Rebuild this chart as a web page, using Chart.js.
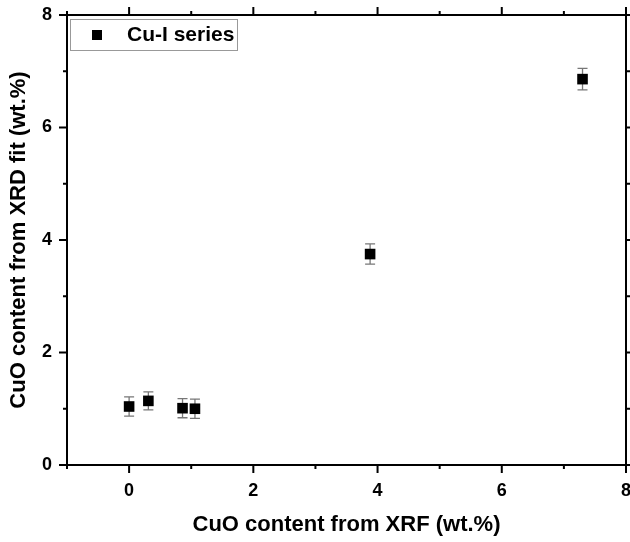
<!DOCTYPE html>
<html>
<head>
<meta charset="utf-8">
<script src="https://cdn.jsdelivr.net/npm/chart.js@4"></script>
<style>
  html, body { margin: 0; padding: 0; background: #fff; }
  #wrap { width: 630px; height: 542px; }
</style>
</head>
<body>
<div id="wrap"><canvas id="c" width="630" height="542"></canvas></div>
<script>
// data
var xrfContent = [0, 0.31, 0.86, 1.06, 3.88, 7.30];
var xrdContent = [1.04, 1.14, 1.01, 1.00, 3.75, 6.86];
var xrdError = [0.17, 0.16, 0.17, 0.17, 0.18, 0.19];
var seriesName = 'Cu-I series';
var xTicks = [-1, 0, 1, 2, 3, 4, 5, 6, 7, 8];
var yTicks = [0, 1, 2, 3, 4, 5, 6, 7, 8];

var FONT = "'Liberation Sans', Arial, sans-serif";

// error bars, box frame with outward ticks, legend
var originLook = {
    id: 'originLook',
    beforeDatasetsDraw: function (chart) {
        var ctx = chart.ctx, xs = chart.scales.x, ys = chart.scales.y;
        ctx.save();
        ctx.strokeStyle = '#777';
        ctx.lineWidth = 1.3;
        for (var i = 0; i < xrfContent.length; i++) {
            var px = xs.getPixelForValue(xrfContent[i]);
            var top = ys.getPixelForValue(xrdContent[i] + xrdError[i]);
            var bot = ys.getPixelForValue(xrdContent[i] - xrdError[i]);
            ctx.beginPath();
            ctx.moveTo(px, top); ctx.lineTo(px, bot);
            ctx.moveTo(px - 5, top); ctx.lineTo(px + 5, top);
            ctx.moveTo(px - 5, bot); ctx.lineTo(px + 5, bot);
            ctx.stroke();
        }
        ctx.restore();
    },
    afterDraw: function (chart) {
        var ctx = chart.ctx, a = chart.chartArea, xs = chart.scales.x, ys = chart.scales.y;
        ctx.save();
        ctx.strokeStyle = '#000';
        ctx.lineWidth = 2;
        ctx.strokeRect(a.left, a.top, a.right - a.left, a.bottom - a.top);
        ctx.beginPath();
        xTicks.forEach(function (v) {
            var px = xs.getPixelForValue(v);
            var len = v % 2 === 0 ? 8 : 4;
            ctx.moveTo(px, a.bottom); ctx.lineTo(px, a.bottom + len);
            ctx.moveTo(px, a.top); ctx.lineTo(px, a.top - len);
        });
        yTicks.forEach(function (v) {
            var py = ys.getPixelForValue(v);
            var len = v % 2 === 0 ? 8 : 4;
            ctx.moveTo(a.left, py); ctx.lineTo(a.left - len, py);
            ctx.moveTo(a.right, py); ctx.lineTo(a.right + len, py);
        });
        ctx.stroke();

        // legend
        ctx.lineWidth = 1;
        ctx.strokeStyle = '#999';
        ctx.strokeRect(70.5, 19.5, 167, 31);
        ctx.fillStyle = '#000';
        ctx.fillRect(92, 30, 10, 10);
        ctx.font = 'bold 21px ' + FONT;
        ctx.textBaseline = 'middle';
        ctx.textAlign = 'left';
        ctx.fillText(seriesName, 127, 35);
        ctx.restore();
    }
};

var pts = xrfContent.map(function (x, i) { return {x: x, y: xrdContent[i]}; });

new Chart(document.getElementById('c'), {
    type: 'scatter',
    data: {
        datasets: [{
            label: seriesName,
            data: pts,
            pointStyle: 'rect',
            pointRadius: 7.5,
            pointHoverRadius: 7.5,
            pointBackgroundColor: '#000',
            pointBorderWidth: 0
        }]
    },
    options: {
        responsive: false,
        animation: false,
        events: [],
        layout: { autoPadding: false, padding: { top: 15, right: 4, left: 0, bottom: 0 } },
        plugins: { legend: { display: false }, tooltip: { enabled: false } },
        scales: {
            x: {
                type: 'linear',
                min: -1, max: 8,
                afterFit: function (s) { s.height = 77; s.paddingLeft = 0; s.paddingRight = 0; },
                afterBuildTicks: function (s) { s.ticks = xTicks.map(function (v) { return {value: v}; }); },
                grid: { display: false, drawTicks: false },
                border: { display: false },
                ticks: {
                    padding: 15,
                    color: '#000',
                    font: { family: FONT, size: 18, weight: 'bold' },
                    callback: function (v) { return (v % 2 === 0 && v >= 0) ? String(v) : ''; }
                },
                title: {
                    display: true,
                    text: 'CuO content from XRF (wt.%)',
                    color: '#000',
                    font: { family: FONT, size: 22, weight: 'bold' },
                    padding: { top: 0, bottom: 4 }
                }
            },
            y: {
                type: 'linear',
                min: 0, max: 8,
                afterFit: function (s) { s.width = 67; s.paddingTop = 0; s.paddingBottom = 0; },
                afterBuildTicks: function (s) { s.ticks = yTicks.map(function (v) { return {value: v}; }); },
                grid: { display: false, drawTicks: false },
                border: { display: false },
                ticks: {
                    padding: 15,
                    color: '#000',
                    font: { family: FONT, size: 18, weight: 'bold' },
                    callback: function (v) { return v % 2 === 0 ? String(v) : ''; }
                },
                title: {
                    display: true,
                    text: 'CuO content from XRD fit (wt.%)',
                    color: '#000',
                    font: { family: FONT, size: 22, weight: 'bold' },
                    padding: { top: 6, bottom: 0 }
                }
            }
        }
    },
    plugins: [originLook]
});
</script>
</body>
</html>
